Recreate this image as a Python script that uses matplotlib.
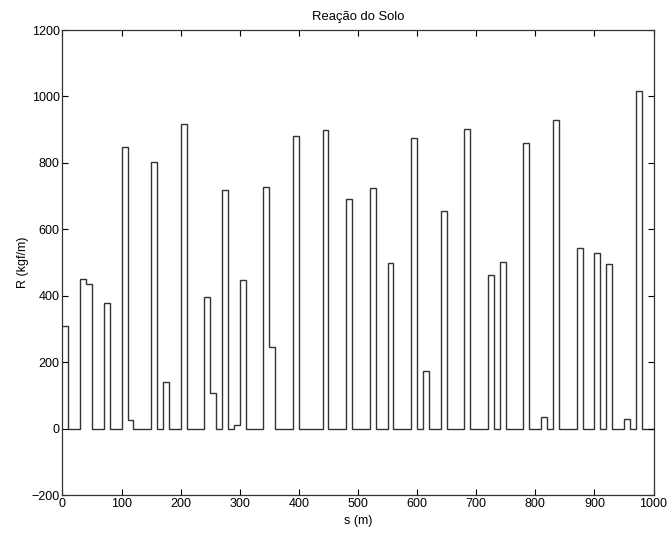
import numpy as np
import matplotlib.pyplot as plt

plt.rcParams['font.family'] = ['Liberation Sans', 'DejaVu Sans']

# soil reaction, one value per 10 m segment from s = 0 to 1000 m
seg_len = 10
reaction = [
    310, 0, 0, 450, 435, 0, 0, 378, 0, 0,
    848, 25, 0, 0, 0, 803, 0, 140, 0, 0,
    918, 0, 0, 0, 395, 108, 0, 718, 0, 12,
    447, 0, 0, 0, 728, 245, 0, 0, 0, 880,
    0, 0, 0, 0, 900, 0, 0, 0, 690, 0,
    0, 0, 723, 0, 0, 500, 0, 0, 0, 875,
    0, 172, 0, 0, 655, 0, 0, 0, 902, 0,
    0, 0, 463, 0, 503, 0, 0, 0, 860, 0,
    0, 35, 0, 928, 0, 0, 0, 545, 0, 0,
    528, 0, 495, 0, 0, 30, 0, 1015, 0, 0,
]
edges = np.arange(len(reaction) + 1) * seg_len

fig = plt.figure(figsize=(6.72, 5.39), dpi=100)
ax = fig.add_axes([0.093, 0.0816, 0.8795, 0.8627])

ax.stairs(reaction, edges, baseline=None, color='#333333', linewidth=1.0)

ax.set_xlim(0, 1000)
ax.set_ylim(-200, 1200)
ax.set_xticks(np.arange(0, 1001, 100))
ax.set_yticks(np.arange(-200, 1201, 200))
ax.tick_params(direction='in', top=True, right=True, labelsize=9,
               length=4, width=0.8, pad=2)
for sp in ax.spines.values():
    sp.set_linewidth(0.9)
    sp.set_color('#333333')

ax.set_title('Reação do Solo', fontsize=9.4, pad=7.5)
ax.set_xlabel('s (m)', fontsize=9, labelpad=4)
ax.set_ylabel('R (kgf/m)', fontsize=9, labelpad=2)

fig.savefig('out.png', dpi=100)
